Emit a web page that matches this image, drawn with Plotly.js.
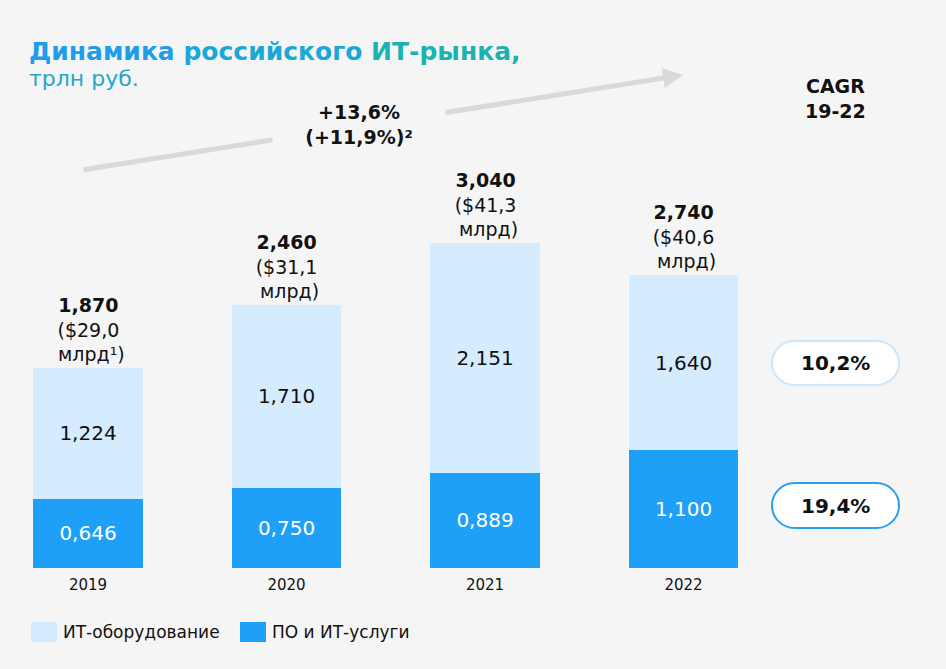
<!DOCTYPE html>
<html>
<head>
<meta charset="utf-8">
<script src="https://cdn.plot.ly/plotly-3.0.1.min.js"></script>
<style>
  html, body { margin: 0; padding: 0; background: #f5f5f5; }
  #chart { width: 946px; height: 669px; }
</style>
</head>
<body>
<div id="chart"></div>
<script>
// data
const years = ['2019', '2020', '2021', '2022'];
const hardware = [1.224, 1.710, 2.151, 1.640];   // ИТ-оборудование
const software = [0.646, 0.750, 0.889, 1.100];   // ПО и ИТ-услуги
const usdBillions = ['29,0', '31,1', '41,3', '40,6'];
const usdNotes = ['¹', '', '', ''];
const cagrLabels = ['10,2%', '19,4%'];
const seriesNames = ['ИТ-оборудование', 'ПО и ИТ-услуги'];

const FONT = "Verdana, 'DejaVu Sans', sans-serif";
const BG = '#f5f5f5';
const LIGHT = '#d4ecfd';
const DARK = '#1fa0f8';

// page geometry (pixels) -> paper coords
const W = 946, H = 669;
const M = { l: 10, r: 10, t: 0, b: 101 };
const PW = W - M.l - M.r, PH = H - M.t - M.b;
const X = px => (px - M.l) / PW;
const Y = py => (M.t + PH - py) / PH;

const fmt = v => v.toFixed(3).replace('.', ',');
const totals = years.map((y, i) => hardware[i] + software[i]);

function pill(x0, y0, x1, y1) {
    const r = (y1 - y0) / 2, k = 0.55 * r;
    const P = (x, y) => X(x).toFixed(5) + ',' + Y(y).toFixed(5);
    return 'M' + P(x0 + r, y0) + ' L' + P(x1 - r, y0) +
        ' C' + P(x1 - r + k, y0) + ' ' + P(x1, y0 + r - k) + ' ' + P(x1, y0 + r) +
        ' C' + P(x1, y0 + r + k) + ' ' + P(x1 - r + k, y1) + ' ' + P(x1 - r, y1) +
        ' L' + P(x0 + r, y1) +
        ' C' + P(x0 + r - k, y1) + ' ' + P(x0, y1 - r + k) + ' ' + P(x0, y0 + r) +
        ' C' + P(x0, y0 + r - k) + ' ' + P(x0 + r - k, y0) + ' ' + P(x0 + r, y0) + ' Z';
}

const traces = [
    {
        type: 'bar',
        name: seriesNames[1],
        x: years,
        y: software,
        marker: { color: DARK },
        text: software.map(fmt),
        textposition: 'inside',
        insidetextanchor: 'middle',
        textangle: 0,
        constraintext: 'none',
        textfont: { family: FONT, size: 20, color: '#ffffff' }
    },
    {
        type: 'bar',
        name: seriesNames[0],
        x: years,
        y: hardware,
        marker: { color: LIGHT },
        text: hardware.map(fmt),
        textposition: 'inside',
        insidetextanchor: 'middle',
        textangle: 0,
        constraintext: 'none',
        textfont: { family: FONT, size: 20, color: '#111111' }
    }
];

const annotations = [];

// totals above bars (category index as x)
years.forEach((yr, i) => {
    annotations.push({
        x: i, y: totals[i], xref: 'x', yref: 'y',
        xanchor: 'center', yanchor: 'bottom', yshift: 1, showarrow: false,
        text: '<b>' + fmt(totals[i]) + '</b><br>(&#36;' + usdBillions[i] + '<br> млрд' + usdNotes[i] + ')',
        font: { family: FONT, size: 19, color: '#111111' }
    });
});

// growth arrow
annotations.push({
    xref: 'paper', yref: 'paper', x: X(683), y: Y(75),
    axref: 'pixel', ayref: 'pixel', ax: 82 - 683, ay: 170 - 75,
    text: '', showarrow: true, arrowhead: 2, arrowsize: 0.8, arrowwidth: 5,
    arrowcolor: '#d9d9d9', standoff: 0
});
annotations.push({
    xref: 'paper', yref: 'paper', x: X(359), y: Y(124),
    xanchor: 'center', yanchor: 'middle', showarrow: false,
    text: '<b>+13,6%<br>(+11,9%)²</b>', width: 160, borderpad: 6,
    bgcolor: BG,
    font: { family: FONT, size: 19, color: '#111111' }
});

// title
annotations.push({
    xref: 'paper', yref: 'paper', x: X(27), y: Y(51),
    xanchor: 'left', yanchor: 'middle', showarrow: false,
    text: '<b><span style="color:#1e9de9">Динамика</span> <span style="color:#1ba8d6">российского</span> <span style="color:#1cb2b2">ИТ-рынка,</span></b>',
    font: { family: FONT, size: 25 }
});
annotations.push({
    xref: 'paper', yref: 'paper', x: X(27), y: Y(78),
    xanchor: 'left', yanchor: 'middle', showarrow: false,
    text: 'трлн руб.',
    font: { family: FONT, size: 22, color: '#1fa8cc' }
});

// CAGR
annotations.push({
    xref: 'paper', yref: 'paper', x: X(835), y: Y(98),
    xanchor: 'center', yanchor: 'middle', showarrow: false,
    text: '<b>CAGR<br>19-22</b>',
    font: { family: FONT, size: 19, color: '#111111' }
});
const pillBoxes = [[772, 341, 899, 385], [772, 483, 899, 528]];
pillBoxes.forEach((b, i) => {
    annotations.push({
        xref: 'paper', yref: 'paper', x: X((b[0] + b[2]) / 2), y: Y((b[1] + b[3]) / 2),
        xanchor: 'center', yanchor: 'middle', showarrow: false,
        text: '<b>' + cagrLabels[i] + '</b>',
        font: { family: FONT, size: 20, color: '#111111' }
    });
});

const shapes = [
    { type: 'path', xref: 'paper', yref: 'paper', path: pill(...pillBoxes[0]),
      fillcolor: '#ffffff', line: { color: '#cde6f9', width: 2 } },
    { type: 'path', xref: 'paper', yref: 'paper', path: pill(...pillBoxes[1]),
      fillcolor: '#ffffff', line: { color: '#2a9ff0', width: 2 } }
];

// legend (drawn by hand for the larger swatches)
const legendItems = [[31, LIGHT, seriesNames[0]], [240, DARK, seriesNames[1]]];
legendItems.forEach(([px, color, name]) => {
    shapes.push({
        type: 'rect', xref: 'paper', yref: 'paper',
        x0: X(px), x1: X(px + 26), y0: Y(642), y1: Y(622),
        fillcolor: color, line: { width: 0 }
    });
    annotations.push({
        xref: 'paper', yref: 'paper', x: X(px + 30), y: Y(632),
        xanchor: 'left', yanchor: 'middle', showarrow: false,
        text: name,
        font: { family: FONT, size: 17, color: '#111111' }
    });
});

const layout = {
    width: W, height: H,
    margin: { l: M.l, r: M.r, t: M.t, b: M.b, autoexpand: false },
    paper_bgcolor: BG, plot_bgcolor: BG,
    barmode: 'stack',
    bargap: 0.446,
    font: { family: FONT, color: '#111111' },
    xaxis: {
        type: 'category',
        range: [(M.l - 88) / 198.5, (W - M.r - 88) / 198.5],
        showgrid: false, zeroline: false, showline: false, ticks: '',
        ticklabelstandoff: 6,
        tickfont: { family: FONT, size: 15, color: '#111111' }
    },
    yaxis: {
        range: [0, PH / 107],
        visible: false, showgrid: false, zeroline: false
    },
    showlegend: false,
    hovermode: false,
    annotations: annotations,
    shapes: shapes
};

Plotly.newPlot('chart', traces, layout, { displayModeBar: false, staticPlot: true });
</script>
</body>
</html>
